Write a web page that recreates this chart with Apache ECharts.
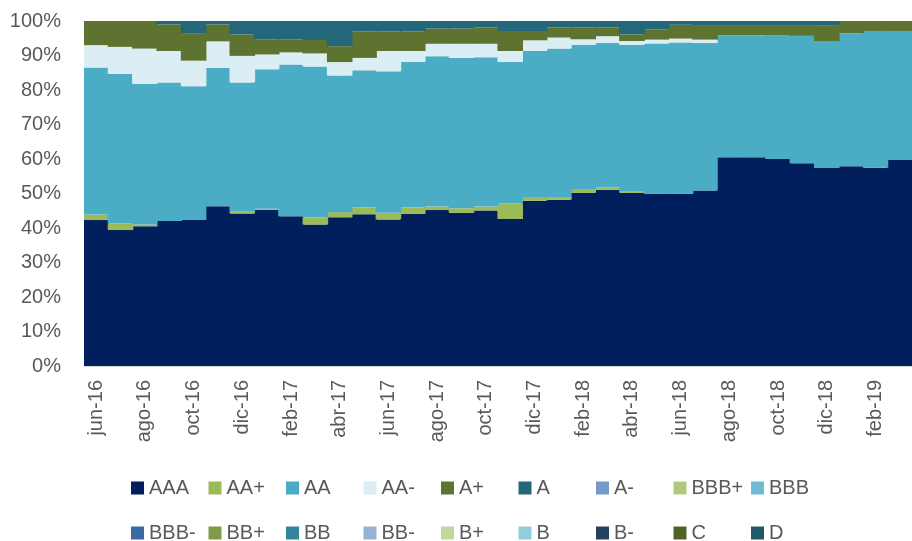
<!DOCTYPE html>
<html>
<head>
<meta charset="utf-8">
<script src="https://cdn.jsdelivr.net/npm/echarts@6/dist/echarts.min.js"></script>
<style>
html,body{margin:0;padding:0;background:#fff;}
#chart{width:912px;height:541px;}
</style>
</head>
<body>
<div id="chart"></div>
<script>
const categories = ['jun-16','jul-16','ago-16','sep-16','oct-16','nov-16','dic-16','ene-17','feb-17','mar-17','abr-17','may-17',
  'jun-17','jul-17','ago-17','sep-17','oct-17','nov-17','dic-17','ene-18','feb-18','mar-18','abr-18','may-18',
  'jun-18','jul-18','ago-18','sep-18','oct-18','nov-18','dic-18','ene-19','feb-19','mar-19'];

const AAA   = [42.3,39.4,40.5,42.0,42.3,46.3,44.2,45.3,43.4,41.0,43.1,44.0,42.5,44.1,45.2,44.4,45.1,42.6,47.9,48.2,50.2,51.1,50.2,49.9,49.9,50.9,60.5,60.5,60.0,58.8,57.4,57.9,57.5,59.7];
const AAplus= [1.6,1.9,0.5,0,0,0,0.7,0.3,0,2.1,1.5,2.0,1.9,1.9,1.0,1.3,1.1,4.5,0.9,0.8,1.1,0.7,0.5,0,0,0,0,0,0,0,0,0,0,0];
const AA    = [42.6,43.4,40.8,40.2,38.8,40.1,37.3,40.4,44.0,43.7,39.6,39.7,41.0,42.1,43.6,43.6,43.3,41.0,42.5,43.0,41.8,41.8,42.4,43.6,43.9,42.7,35.4,35.4,35.8,36.9,36.8,38.5,39.5,37.3];
const AAminus=[6.5,7.8,10.2,9.1,7.4,7.7,7.7,4.3,3.5,3.8,3.9,3.6,5.9,3.2,3.6,4.1,3.9,3.2,3.1,3.2,1.6,2.0,1.1,1.1,1.1,1.0,0,0,0,0,0,0,0,0];
const Aplus = [7.0,7.5,8.0,7.7,7.8,4.9,6.2,4.3,3.7,3.9,4.6,7.7,5.7,5.7,4.4,4.4,4.7,5.8,2.7,2.9,3.4,2.5,1.9,3.0,4.0,4.0,2.7,2.7,2.8,2.9,4.6,3.6,3.0,3.0];
const A     = [0,0,0,1.0,3.7,1.0,3.9,5.4,5.4,5.5,7.3,3.0,3.0,3.0,2.2,2.2,1.9,2.9,2.9,1.9,1.9,1.9,3.9,2.4,1.1,1.4,1.4,1.4,1.4,1.4,1.2,0,0,0];
const empty = [0,0,0,0,0,0,0,0,0,0,0,0,0,0,0,0,0,0,0,0,0,0,0,0,0,0,0,0,0,0,0,0,0,0];

const seriesNames = ['AAA','AA+','AA','AA-','A+','A','A-','BBB+','BBB','BBB-','BB+','BB','BB-','B+','B','B-','C','D'];
const seriesValues = [AAA,AAplus,AA,AAminus,Aplus,A,empty,empty,empty,empty,empty,empty,empty,empty,empty,empty,empty,empty];
const seriesColors = ['#001F5C','#9BBB59','#4BACC6','#DAEEF3','#5E7330','#246778','#739AC8','#B0C97C','#6EBCD2',
  '#3C69A3','#7F9B45','#32869C','#95B3D7','#C4D79B','#93CDDD','#254061','#4F6228','#215968'];

const yTicks = [0,10,20,30,40,50,60,70,80,90,100];

const FONT = 'Liberation Sans';
const legendText = {color:'#595959', fontSize:20, fontFamily:FONT, width:54, overflow:'truncate', lineHeight:20};

const chart = echarts.init(document.getElementById('chart'), null, {renderer:'canvas'});
chart.setOption({
  animation:false,
  backgroundColor:'#ffffff',
  grid:{left:84, top:21, width:838, height:345, containLabel:false},
  legend:[
    {data:seriesNames.slice(0,9), left:131, top:478, padding:0, itemGap:5.5, itemWidth:13, itemHeight:13,
     icon:'rect', textStyle:legendText, selectedMode:false},
    {data:seriesNames.slice(9), left:131, top:523, padding:0, itemGap:5.5, itemWidth:13, itemHeight:13,
     icon:'rect', textStyle:legendText, selectedMode:false}
  ],
  xAxis:{
    type:'category', data:categories,
    axisLine:{show:true, lineStyle:{color:'#D9D9D9', width:1}},
    axisTick:{show:false},
    axisLabel:{interval:1, rotate:90, margin:14, color:'#595959', fontSize:20, fontFamily:FONT}
  },
  yAxis:{
    type:'value', min:yTicks[0], max:yTicks[yTicks.length-1], interval:10,
    axisLine:{show:false}, axisTick:{show:false},
    axisLabel:{formatter:'{value}%', margin:23, color:'#595959', fontSize:20, fontFamily:FONT},
    splitLine:{show:true, lineStyle:{color:'#D9D9D9', width:1}}
  },
  series: seriesNames.map((n,i)=>({
    name:n, type:'bar', stack:'total', data:seriesValues[i],
    barWidth:25.6, barGap:'0%',
    itemStyle:{color:seriesColors[i]},
    emphasis:{disabled:true}
  }))
});
</script>
</body>
</html>
